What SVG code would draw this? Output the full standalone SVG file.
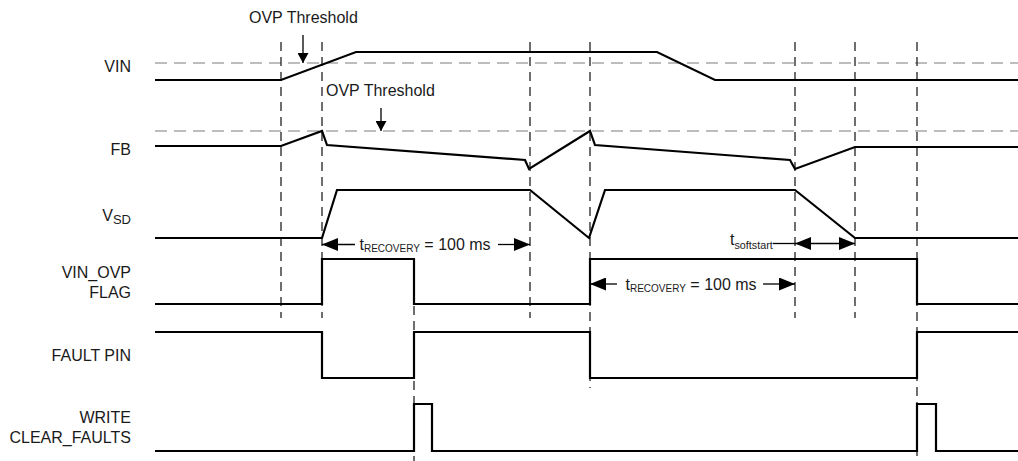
<svg xmlns="http://www.w3.org/2000/svg" width="1018" height="461" viewBox="0 0 1018 461">
<style>
text{font-family:"Liberation Sans",Arial,sans-serif;font-size:16px;fill:#1a1a1a}
.lbl{text-anchor:end}
.sub{font-size:10px}
.sub2{font-size:10.8px}
.subv{font-size:13px}
.sig{fill:none;stroke:#000;stroke-width:2.2;stroke-linejoin:miter}
.vd{stroke:#222;stroke-width:1.3;stroke-dasharray:9 6;fill:none}
.hd{stroke:#a8a8a8;stroke-width:1.4;stroke-dasharray:12 7;fill:none}
.ln{stroke:#000;stroke-width:1.3;fill:none}
</style>
<defs>
<marker id="ah" viewBox="0 0 16 13" refX="16" refY="6.5" markerWidth="16" markerHeight="13" markerUnits="userSpaceOnUse" orient="auto-start-reverse">
<path d="M0,0 L16,6.5 L0,13 Z" fill="#000"/>
</marker>
<marker id="ahs" viewBox="0 0 10 11" refX="10" refY="5.5" markerWidth="10" markerHeight="11" markerUnits="userSpaceOnUse" orient="auto">
<path d="M0,0 L10,5.5 L0,11 Z" fill="#000"/>
</marker>
</defs>
<rect width="1018" height="461" fill="#fff"/>
<g id="guides">
<line class="hd" x1="155" y1="63" x2="1018" y2="63"/>
<line class="hd" x1="155" y1="131" x2="1018" y2="131"/>
<line class="vd" x1="281" y1="42" x2="281" y2="318"/>
<line class="vd" x1="322" y1="42" x2="322" y2="318"/>
<line class="vd" x1="414" y1="306" x2="414" y2="461"/>
<line class="vd" x1="530" y1="42" x2="530" y2="318"/>
<line class="vd" x1="590" y1="42" x2="590" y2="388"/>
<line class="vd" x1="795" y1="42" x2="795" y2="318"/>
<line class="vd" x1="855" y1="42" x2="855" y2="318"/>
<line class="vd" x1="917" y1="42" x2="917" y2="461"/>
</g>
<g id="vin">
<text class="lbl" x="131" y="72">VIN</text>
<polyline class="sig" points="155,80 281,80 356,52 657,52 715,80 1018,80"/>
</g>
<g id="fb">
<text class="lbl" x="131" y="155">FB</text>
<polyline class="sig" points="155,146 281,146 322,131 327,145 525,160 529,169 590,131 595,145 790,160 795,169 855,147 1018,147"/>
</g>
<g id="vsd">
<text class="lbl" x="131" y="221">V<tspan class="subv" dy="3">SD</tspan></text>
<polyline class="sig" points="155,238 322,238 337,190 530,190 589,238 605,190 795,190 855,238 1018,238"/>
</g>
<g id="vin_ovp_flag">
<text class="lbl" x="131" y="278">VIN_OVP</text>
<text class="lbl" x="131" y="298">FLAG</text>
<polyline class="sig" points="155,304 322,304 322,259 414,259 414,304 590,304 590,259 917,259 917,304 1018,304"/>
</g>
<g id="fault_pin">
<text class="lbl" x="131" y="361">FAULT PIN</text>
<polyline class="sig" points="155,332 322,332 322,378 414,378 414,332 590,332 590,378 917,378 917,332 1018,332"/>
</g>
<g id="write_clear_faults">
<text class="lbl" x="131" y="423">WRITE</text>
<text class="lbl" x="131" y="443">CLEAR_FAULTS</text>
<polyline class="sig" points="155,451 414,451 414,404 432,404 432,451 917,451 917,404 936,404 936,451 1018,451"/>
</g>
<g id="ovp_threshold_vin">
<text x="249" y="23">OVP Threshold</text>
<line class="ln" x1="303" y1="35" x2="303" y2="63" marker-end="url(#ahs)"/>
</g>
<g id="ovp_threshold_fb">
<text x="326" y="96">OVP Threshold</text>
<line class="ln" x1="381" y1="108" x2="381" y2="131" marker-end="url(#ahs)"/>
</g>
<g id="connectors">
<line class="ln" x1="355" y1="244.5" x2="322" y2="244.5" marker-end="url(#ah)"/>
<line class="ln" x1="498" y1="244.5" x2="530" y2="244.5" marker-end="url(#ah)"/>
<line class="ln" x1="617" y1="284" x2="590" y2="284" marker-end="url(#ah)"/>
<line class="ln" x1="763" y1="284" x2="795" y2="284" marker-end="url(#ah)"/>
<line class="ln" x1="773" y1="243.5" x2="795" y2="243.5"/>
<line class="ln" x1="795" y1="243.5" x2="855" y2="243.5" marker-start="url(#ah)" marker-end="url(#ah)"/>
</g>
<g id="labels">
<text x="359.5" y="249.5">t<tspan class="sub" dy="2.5">RECOVERY</tspan><tspan dy="-2.5"> = 100 ms</tspan></text>
<text x="625.5" y="289.5">t<tspan class="sub" dy="2.5">RECOVERY</tspan><tspan dy="-2.5"> = 100 ms</tspan></text>
<text x="730" y="245">t<tspan class="sub2" dy="4">softstart</tspan></text>
</g>
</svg>
